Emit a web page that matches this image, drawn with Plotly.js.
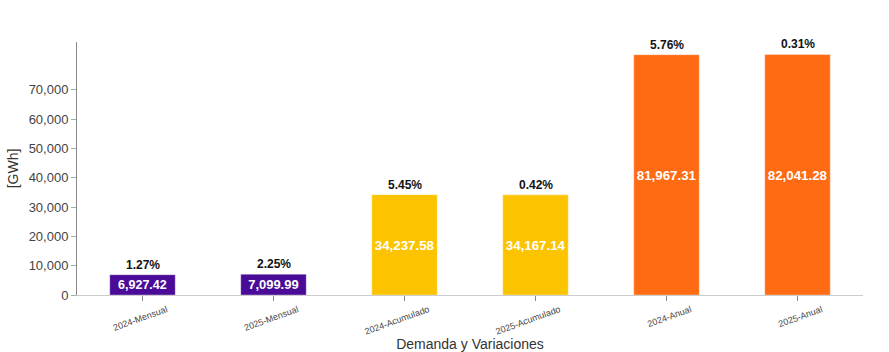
<!DOCTYPE html>
<html><head><meta charset="utf-8">
<script src="https://cdn.plot.ly/plotly-3.0.1.min.js"></script>
<style>html,body{margin:0;padding:0;background:#fff}#chart{width:889px;height:352px}</style>
</head><body><div id="chart"></div>
<script>
const categories = ["2024-Mensual","2025-Mensual","2024-Acumulado","2025-Acumulado","2024-Anual","2025-Anual"];
const values = [6927.42, 7099.99, 34237.58, 34167.14, 81967.31, 82041.28];
const variations = ["1.27%","2.25%","5.45%","0.42%","5.76%","0.31%"];
const barColors = ["#4a0c98","#4a0c98","#fcc400","#fcc400","#ff6b13","#ff6b13"];
const yTicks = [0,10000,20000,30000,40000,50000,60000,70000];

const fmt = v => v.toLocaleString("en-US",{minimumFractionDigits:2,maximumFractionDigits:2});

const trace = {
  type: "bar",
  x: categories,
  y: values,
  width: 0.5,
  marker: {color: barColors, line: {color: "rgba(255,255,255,0.35)", width: 1}},
  text: values.map(fmt),
  textposition: "inside",
  insidetextanchor: "middle",
  textangle: 0,
  textfont: {family: "Liberation Sans, Arial, sans-serif", size: 14, color: "#ffffff", weight: "bold"},
  hoverinfo: "none"
};

const annotations = categories.map((c,i) => ({
  x: c, y: values[i], xref: "x", yref: "y",
  text: "<b>" + variations[i] + "</b>",
  showarrow: false, yanchor: "bottom", yshift: 1,
  font: {family: "Liberation Sans, Arial, sans-serif", size: 12, color: "#111111"}
}));

const layout = {
  width: 889, height: 352,
  margin: {l: 77, r: 26, t: 42, b: 57},
  paper_bgcolor: "#ffffff", plot_bgcolor: "#ffffff",
  font: {family: "Liberation Sans, Arial, sans-serif", color: "#444"},
  showlegend: false,
  bargap: 0.5,
  xaxis: {
    type: "category",
    tickangle: -20,
    tickfont: {size: 9, color: "#444"},
    ticklabelshift: 24,
    ticks: "outside", ticklen: 5, tickcolor: "#888",
    showline: true, linecolor: "#cccccc", linewidth: 1,
    showgrid: false,
    title: {text: "Demanda y Variaciones", font: {size: 14, color: "#333"}, standoff: 6}
  },
  yaxis: {
    range: [0, 86300],
    tickvals: yTicks,
    tickformat: ",d",
    tickfont: {size: 13, color: "#444"},
    ticks: "outside", ticklen: 5, tickcolor: "#aaa",
    showline: true, linecolor: "#888888", linewidth: 1,
    showgrid: false, zeroline: false,
    title: {text: "[GWh]", font: {size: 14, color: "#333"}, standoff: 6}
  },
  annotations: annotations
};

Plotly.newPlot("chart", [trace], layout, {displayModeBar: false, staticPlot: true});
</script></body></html>
